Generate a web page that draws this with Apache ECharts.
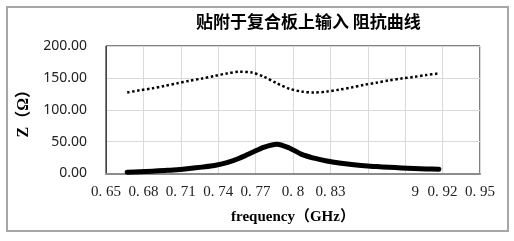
<!DOCTYPE html>
<html>
<head>
<meta charset="utf-8">
<script src="https://cdn.jsdelivr.net/npm/echarts@6/dist/echarts.min.js"></script>
<style>
  html, body { margin: 0; padding: 0; background: #fff; }
  #chart { width: 514px; height: 241px; }
</style>
</head>
<body>
<div id="chart"></div>
<script>
// 频率 (GHz)
var freq = [0.667, 0.677, 0.687, 0.697, 0.707, 0.717, 0.727, 0.737, 0.747, 0.757, 0.767, 0.777, 0.787,
            0.797, 0.807, 0.817, 0.827, 0.837, 0.847, 0.857, 0.867, 0.877, 0.887, 0.897, 0.907, 0.917];
// 上面的虚线
var zUpper = [127, 130.5, 133.5, 137.5, 141.5, 145.5, 149, 153, 157, 159.5, 158.5, 151.5, 141.5,
              133, 128.5, 127, 128.5, 131.5, 135, 139, 142.5, 146, 149, 151.5, 154.5, 157];
// 下面的粗实线
var zLower = [2, 2.8, 3.7, 4.8, 6, 7.8, 10, 12.5, 17, 24, 33, 41.5, 46,
              40, 30, 24, 19.5, 16.5, 14, 12, 10.8, 9.7, 8.8, 8, 7.2, 6.5];
// x轴刻度文字 (0.86 没有, 0.89 只剩 "9")
var xTickLabels = ['0. 65', '0. 68', '0. 71', '0. 74', '0. 77', '0. 8', '0. 83', '', '9', '0. 92', '0. 95'];

function pairs(ys) {
  return freq.map(function (f, i) { return [f, ys[i]]; });
}

var chart = echarts.init(document.getElementById('chart'));
var option = {
  animation: false,
  backgroundColor: '#fff',
  title: {
    text: '贴附于复合板上输入 阻抗曲线',
    left: 196,
    top: 13,
    padding: 0,
    textStyle: {
      fontFamily: 'Noto Sans CJK SC',
      fontWeight: 'bold',
      fontSize: 17,
      color: '#000'
    }
  },
  graphic: [{
    type: 'rect',
    shape: { x: 7, y: 7, width: 501, height: 224 },
    style: { fill: 'none', stroke: '#a6a6a6', lineWidth: 2 },
    silent: true
  }],
  grid: {
    left: 106,
    right: 34,
    top: 46,
    bottom: 67.5,
    show: true,
    borderColor: '#000',
    borderWidth: 1
  },
  xAxis: {
    type: 'value',
    min: 0.65,
    max: 0.95,
    interval: 0.03,
    name: 'frequency（GHz）',
    nameLocation: 'middle',
    nameGap: 36,
    nameTextStyle: {
      fontFamily: 'Liberation Serif, Noto Sans CJK SC',
      fontWeight: 'bold',
      fontSize: 15,
      color: '#000'
    },
    axisLine: { lineStyle: { color: '#8c8c8c', width: 2 } },
    axisTick: { show: false },
    splitLine: { show: true, lineStyle: { color: '#d9d9d9' } },
    axisLabel: {
      margin: 11,
      fontFamily: 'Liberation Serif',
      fontSize: 15,
      color: '#222',
      formatter: function (v) {
        var i = Math.round((v - 0.65) / 0.03);
        if (i === 8) return '{n|' + xTickLabels[i] + '}';
        return xTickLabels[i];
      },
      rich: {
        n: { fontFamily: 'Liberation Serif', fontSize: 15, color: '#222', padding: [0, 0, 0, 20] }
      }
    }
  },
  yAxis: {
    type: 'value',
    min: 0,
    max: 200,
    interval: 50,
    name: 'Z（Ω）',
    nameLocation: 'middle',
    nameGap: 66,
    nameTextStyle: {
      fontFamily: 'Liberation Serif, Noto Sans CJK SC',
      fontWeight: 'bold',
      fontSize: 16,
      color: '#000'
    },
    axisLine: { show: true, lineStyle: { color: '#333', type: [1, 1] } },
    axisTick: { show: false },
    splitLine: { lineStyle: { color: '#d9d9d9' } },
    axisLabel: {
      margin: 19,
      fontFamily: 'Noto Sans',
      fontSize: 14,
      color: '#222',
      formatter: function (v) { return v.toFixed(2); }
    }
  },
  series: [{
    type: 'line',
    data: pairs(zUpper),
    smooth: 0.3,
    symbol: 'none',
    lineStyle: { color: '#000', width: 2.5, type: [2.5, 2.5] }
  }, {
    type: 'line',
    data: pairs(zLower),
    smooth: 0.3,
    symbol: 'none',
    lineStyle: { color: '#000', width: 5, cap: 'round', join: 'round' }
  }]
};
chart.setOption(option);
</script>
</body>
</html>
